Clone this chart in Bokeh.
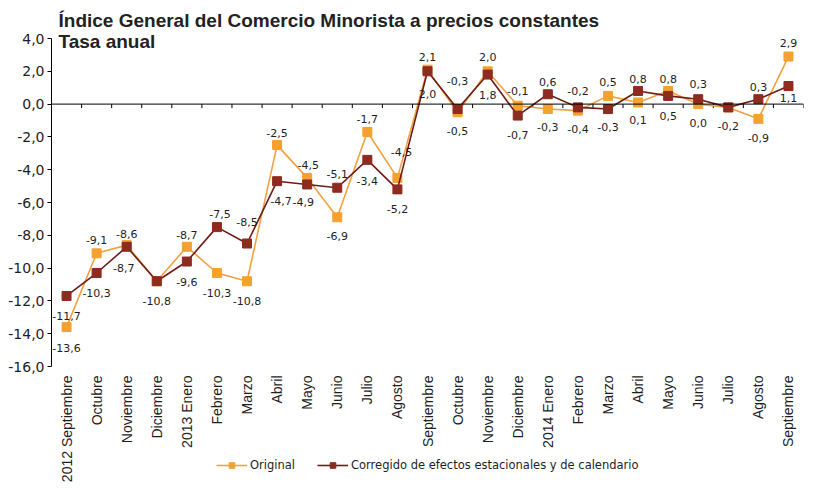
import math
from bokeh.plotting import figure
from bokeh.models import (Range1d, FixedTicker, Span, Label, Legend, LegendItem,
                          ColumnDataSource)
from bokeh.embed import file_html
from bokeh.resources import INLINE
from bokeh.core.properties import value

# ---------------- data ----------------
categories = ["2012 Septiembre", "Octubre", "Noviembre", "Diciembre", "2013 Enero",
              "Febrero", "Marzo", "Abril", "Mayo", "Junio", "Julio", "Agosto",
              "Septiembre", "Octubre", "Noviembre", "Diciembre", "2014 Enero",
              "Febrero", "Marzo", "Abril", "Mayo", "Junio", "Julio", "Agosto",
              "Septiembre"]
original = [-13.6, -9.1, -8.6, -10.8, -8.7, -10.3, -10.8, -2.5, -4.5, -6.9, -1.7, -4.5,
            2.1, -0.5, 2.0, -0.1, -0.3, -0.4, 0.5, 0.1, 0.8, 0.0, -0.2, -0.9, 2.9]
corregido = [-11.7, -10.3, -8.7, -10.8, -9.6, -7.5, -8.5, -4.7, -4.9, -5.1, -3.4, -5.2,
             2.0, -0.3, 1.8, -0.7, 0.6, -0.2, -0.3, 0.8, 0.5, 0.3, -0.2, 0.3, 1.1]
y_ticks = [-16, -14, -12, -10, -8, -6, -4, -2, 0, 2, 4]
series_names = ["Original", "Corregido de efectos estacionales y de calendario"]
title_lines = ["Índice General del Comercio Minorista a precios constantes", "Tasa anual"]

# ---------------- label placement (styling, px) ----------------
orig_dy = [21, -13, -11, 20, -12, 20, 20, -12, -13, 19, -13, -26,
           -13, 19, -14, -15, 18, 18, -14, 18, -12, 19, 19, 19, -14]
orig_dx = [0, 0, 0, 0, 0, 0, 0, 0, 1, 0, 0, 4,
           0, 0, 0, 0, 0, 0, 0, 0, 0, 0, 0, 0, 0]
orig_show = [True] * 25
corr_dy = [20, 20, 21, 20, 20, -13, -22, 20, 18, -14, 21, 20,
           23, -28, 20, 19, -12, -16, 18, -12, 20, -15, 19, -12, 12]
corr_dx = [0, 0, -3, 0, 0, 3, 0, 4, -4, 0, 0, 0,
           0, 0, 0, 0, 0, 0, 0, 0, 0, 0, 0, 0, 0]
corr_show = [True, True, True, False, True, True, True, True, True, True, True, True,
             True, True, True, True, True, True, True, True, True, True, False, True, True]

ORANGE = "#F5A12E"
ORANGE_LINE = "#F2A040"
DARK = "#8E2B20"
DARK_LINE = "#6E1C14"
TEXT = "#1e1e1e"

# layout (pixels)
W, H = 822, 490
LEFT, RIGHT = 51, 803          # plot area left/right edges
TOP_PX, BOT_PX = 38, 366       # pixel rows of the top and bottom y ticks


def fmt(v):
    return f"{v:.1f}".replace(".", ",")


xs = list(range(len(categories)))
ppu = (BOT_PX - TOP_PX) / (y_ticks[-1] - y_ticks[0])
y_start = y_ticks[0] - (H - BOT_PX) / ppu
y_end = y_ticks[-1] + TOP_PX / ppu

p = figure(width=W, height=H, x_range=Range1d(-0.5, len(categories) - 0.5),
           y_range=Range1d(y_start, y_end), output_backend="svg",
           toolbar_location=None, min_border_left=LEFT, min_border_right=W - RIGHT,
           min_border_top=0, min_border_bottom=0)
p.xgrid.visible = False
p.ygrid.visible = False
p.outline_line_color = None
p.background_fill_color = "white"
p.xaxis.visible = False

# y axis
ya = p.yaxis[0]
ya.ticker = FixedTicker(ticks=y_ticks)
ya.bounds = (y_ticks[0], y_ticks[-1])
ya.major_label_overrides = {t: fmt(t) for t in y_ticks}
ya.axis_line_color = "black"
ya.major_tick_line_color = "black"
ya.minor_tick_line_color = None
ya.major_tick_out = 4
ya.major_tick_in = 0
ya.major_label_standoff = 3
ya.major_label_text_font = "DejaVu Sans"
ya.major_label_text_font_size = "14px"
ya.major_label_text_color = TEXT

# category labels (vertical, under the plot area)
cat_src = ColumnDataSource(dict(x=xs, y=[y_ticks[0]] * len(xs), t=categories))
p.text(x="x", y="y", text="t", source=cat_src, angle=math.pi / 2, y_offset=9,
       text_align="right", text_baseline="middle", text_font=value("Liberation Sans"),
       text_font_size="14px", text_color=TEXT)

# zero line with category-boundary ticks
p.add_layout(Span(location=0, dimension="width", line_color="black", line_width=1))
bounds = [i + 0.5 for i in xs]
p.segment(x0=bounds, y0=[0] * len(bounds), x1=bounds, y1=[-4 / ppu] * len(bounds),
          line_color="black", line_width=1)

# series
l1 = p.line(xs, original, line_color=ORANGE_LINE, line_width=1.6)
m1 = p.scatter(xs, original, marker="square", size=9, fill_color=ORANGE, line_color=ORANGE)
l2 = p.line(xs, corregido, line_color=DARK_LINE, line_width=1.6)
m2 = p.scatter(xs, corregido, marker="square", size=9, fill_color=DARK, line_color=DARK)


# data labels
def add_labels(vals, dx, dy, show):
    src = ColumnDataSource(dict(x=xs, y=vals,
                                t=[fmt(v) if s else "" for v, s in zip(vals, show)],
                                dx=dx, dy=dy))
    p.text(x="x", y="y", text="t", x_offset="dx", y_offset="dy", source=src,
           text_font=value("DejaVu Sans"), text_font_size="11px",
           text_align="center", text_baseline="middle", text_color=TEXT)


add_labels(original, orig_dx, orig_dy, orig_show)
add_labels(corregido, corr_dx, corr_dy, corr_show)

# title
p.add_layout(Label(x=-0.5, y=y_ticks[-1], x_offset=7, y_offset=18, text=title_lines[0],
                   text_font="Liberation Sans", text_font_style="bold",
                   text_font_size="19px", text_baseline="alphabetic", text_color="#222222"))
p.add_layout(Label(x=-0.5, y=y_ticks[-1], x_offset=7, y_offset=-3, text=title_lines[1],
                   text_font="Liberation Sans", text_font_style="bold",
                   text_font_size="19px", text_baseline="alphabetic", text_color="#222222"))

legend = Legend(items=[LegendItem(label=series_names[0], renderers=[l1, m1]),
                       LegendItem(label=series_names[1], renderers=[l2, m2])],
                location=(216 - LEFT, 18), orientation="horizontal", glyph_width=31,
                glyph_height=14, label_standoff=3, spacing=22, padding=0, margin=0,
                border_line_color=None, background_fill_alpha=0,
                label_text_font="DejaVu Sans", label_text_font_size="11.5px",
                label_text_color=TEXT, label_height=14)
p.add_layout(legend)

open("out.html", "w").write(file_html(p, INLINE))
